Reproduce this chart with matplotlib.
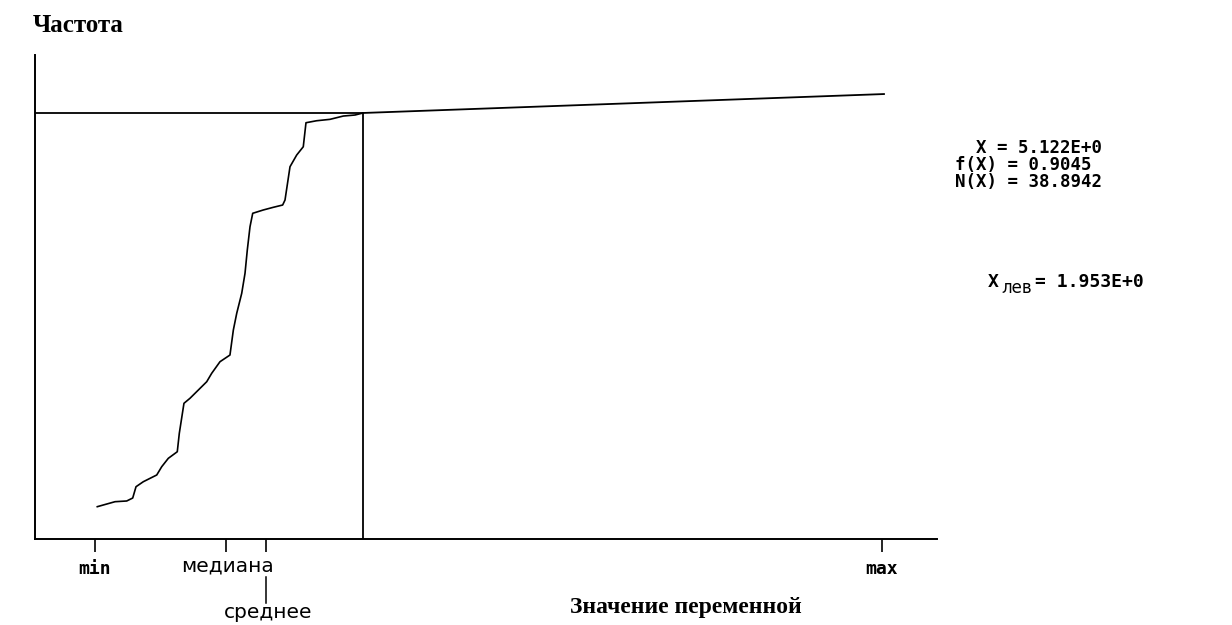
import numpy as np
import matplotlib
matplotlib.use("Agg")
import matplotlib.pyplot as plt
import matplotlib.transforms as mtransforms

# Эмпирическая функция распределения
x_vals = [1.980, 2.051, 2.190, 2.328, 2.399, 2.438, 2.524, 2.683, 2.742, 2.820,
          2.926, 2.950, 3.005, 3.076, 3.175, 3.274, 3.333, 3.431, 3.549, 3.589,
          3.629, 3.688, 3.727, 3.754, 3.786, 3.818, 3.942, 4.061, 4.172, 4.200,
          4.259, 4.338, 4.416, 4.448, 4.573, 4.732, 4.889, 5.028, 5.122]
f_vals = [0.0686, 0.0722, 0.0792, 0.0807, 0.0870, 0.1110, 0.1216, 0.1359, 0.1535, 0.1713,
          0.1853, 0.2244, 0.2881, 0.2987, 0.3163, 0.3339, 0.3518, 0.3764, 0.3906, 0.4437,
          0.4792, 0.5216, 0.5641, 0.6135, 0.6630, 0.6915, 0.6985, 0.7042, 0.7091, 0.7197,
          0.7904, 0.8152, 0.8328, 0.8838, 0.8880, 0.8910, 0.8980, 0.9002, 0.9045]

# Выбранная точка и продолжение до максимума
X_cur = 5.122
f_cur = 0.9045
N_cur = 38.8942
x_max_line = [5.122, 11.283]
f_max_line = [0.9045, 0.9447]

# Характерные значения по оси X
x_min = 1.953
x_median = 3.502
x_mean = 3.975
x_max = 11.26
x_left = 1.953

W, H = 1232, 625
fig = plt.figure(figsize=(W / 100, H / 100), dpi=100)

def px(x, y):
    return x / W, 1 - y / H

ax = fig.add_axes([35 / W, 1 - 539 / H, (937 - 35) / W, (539 - 55) / H])
ax.set_xlim(1.2435, 11.91)
ax.set_ylim(0, 1.0276)
for s in ["top", "right"]:
    ax.spines[s].set_visible(False)
for s in ["left", "bottom"]:
    ax.spines[s].set_linewidth(1.4)
    ax.spines[s].set_color("black")

ax.plot(x_vals, f_vals, color="black", lw=1.2)
ax.plot([1.2435, X_cur], [f_cur, f_cur], color="black", lw=1.3)
ax.plot([X_cur, X_cur], [0, f_cur], color="black", lw=1.3)
ax.plot(x_max_line, f_max_line, color="black", lw=1.3)

ax.set_yticks([])
ax.set_xticks([x_min, x_median, x_mean, x_max])
ax.set_xticklabels([])
ax.tick_params(axis="x", direction="out", length=9.5, width=1.2, color="black")

trans = mtransforms.blended_transform_factory(ax.transData, ax.transAxes)
mono_b = dict(family="DejaVu Sans Mono", weight="bold")
ax.text(x_min, -0.062, "min", transform=trans, ha="center", va="center", fontsize=13, **mono_b)
ax.text(x_max, -0.062, "max", transform=trans, ha="center", va="center", fontsize=13, **mono_b)
ax.text(x_median + 0.02, -0.055, "медиана", transform=trans, ha="center", va="center",
        fontsize=14.5, family="DejaVu Sans", color="black")
ax.plot([x_mean, x_mean], [-0.079, -0.132], transform=trans, color="black", lw=1.1, clip_on=False)
ax.text(x_mean + 0.02, -0.152, "среднее", transform=trans, ha="center", va="center",
        fontsize=14.5, family="DejaVu Sans", color="black")

serif_b = dict(family="Liberation Serif", weight="bold")
fig.text(*px(33, 25), "Частота", ha="left", va="center", fontsize=18, **serif_b)
fig.text(*px(570, 607), "Значение переменной", ha="left", va="center", fontsize=17, **serif_b)

info = "  X = %.3fE+0\nf(X) = %.4f\nN(X) = %.4f" % (X_cur, f_cur, N_cur)
fig.text(*px(955, 165), info, ha="left", va="center", fontsize=12.5,
         linespacing=0.95, **mono_b)

fig.text(*px(988, 282), "X", ha="left", va="center", fontsize=13, **mono_b)
fig.text(*px(1001, 288), "лев", ha="left", va="center", fontsize=12, family="DejaVu Sans")
fig.text(*px(1035, 282), "= %.3fE+0" % x_left, ha="left", va="center", fontsize=13, **mono_b)

fig.savefig("out.png", dpi=100, facecolor="white")
